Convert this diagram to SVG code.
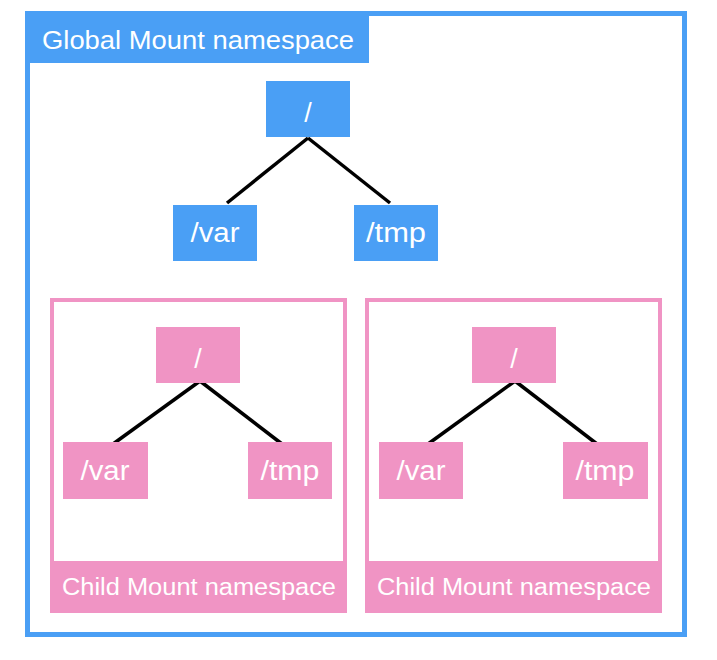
<svg xmlns="http://www.w3.org/2000/svg" width="717" height="660" viewBox="0 0 717 660">
<style>
.bg{fill:#ffffff}
.gframe{fill:#ffffff;stroke:#4A9FF5;stroke-width:5}
.cframe{fill:#ffffff;stroke:#F094C4;stroke-width:4}
.blue{fill:#4A9FF5}
.pink{fill:#F094C4}
.t{font-family:"Liberation Sans",Arial,sans-serif;fill:#ffffff}
.nt{font-size:27px;text-anchor:middle}
.edge{stroke:#000000;stroke-width:3.5;fill:none;stroke-linecap:butt}
</style>
<rect class="bg" x="0" y="0" width="717" height="660"/>
<g id="global-namespace">
  <rect class="gframe" x="27.5" y="13.5" width="657" height="621"/>
  <rect class="blue" x="25" y="11" width="344" height="52"/>
  <text class="t" x="42" y="49" font-size="25" textLength="312" lengthAdjust="spacingAndGlyphs">Global Mount namespace</text>
</g>
<g id="child-namespace-1">
  <rect class="cframe" x="52" y="300" width="293" height="311"/>
  <rect class="pink" x="50" y="561" width="297" height="52"/>
  <text class="t" x="62" y="595" font-size="23" textLength="274" lengthAdjust="spacingAndGlyphs">Child Mount namespace</text>
</g>
<g id="child-namespace-2">
  <rect class="cframe" x="367" y="300" width="293" height="311"/>
  <rect class="pink" x="365" y="561" width="297" height="52"/>
  <text class="t" x="377" y="595" font-size="23" textLength="274" lengthAdjust="spacingAndGlyphs">Child Mount namespace</text>
</g>
<g id="connectors">
  <line class="edge" x1="308" y1="138" x2="227" y2="203"/>
  <line class="edge" x1="308" y1="138" x2="390" y2="203"/>
  <line class="edge" x1="200" y1="381" x2="113" y2="444"/>
  <line class="edge" x1="200" y1="381" x2="282" y2="444"/>
  <line class="edge" x1="515" y1="381" x2="428" y2="444"/>
  <line class="edge" x1="515" y1="381" x2="597" y2="444"/>
</g>
<g id="g-root">
  <rect class="blue" x="266" y="81" width="84" height="56"/>
  <text class="t nt" x="308" y="122">/</text>
</g>
<g id="g-var">
  <rect class="blue" x="173" y="205" width="84" height="56"/>
  <text class="t nt" x="215" y="242" textLength="49" lengthAdjust="spacingAndGlyphs">/var</text>
</g>
<g id="g-tmp">
  <rect class="blue" x="354" y="205" width="84" height="56"/>
  <text class="t nt" x="396" y="242" textLength="60" lengthAdjust="spacingAndGlyphs">/tmp</text>
</g>
<g id="c1-root">
  <rect class="pink" x="156" y="327" width="84" height="56"/>
  <text class="t nt" x="198" y="368">/</text>
</g>
<g id="c1-var">
  <rect class="pink" x="63" y="442" width="85" height="57"/>
  <text class="t nt" x="105" y="480" textLength="49" lengthAdjust="spacingAndGlyphs">/var</text>
</g>
<g id="c1-tmp">
  <rect class="pink" x="248" y="442" width="84" height="57"/>
  <text class="t nt" x="290" y="480" textLength="59" lengthAdjust="spacingAndGlyphs">/tmp</text>
</g>
<g id="c2-root">
  <rect class="pink" x="472" y="327" width="84" height="56"/>
  <text class="t nt" x="514" y="368">/</text>
</g>
<g id="c2-var">
  <rect class="pink" x="379" y="442" width="84" height="57"/>
  <text class="t nt" x="421" y="480" textLength="49" lengthAdjust="spacingAndGlyphs">/var</text>
</g>
<g id="c2-tmp">
  <rect class="pink" x="563" y="442" width="85" height="57"/>
  <text class="t nt" x="605" y="480" textLength="59" lengthAdjust="spacingAndGlyphs">/tmp</text>
</g>
</svg>
